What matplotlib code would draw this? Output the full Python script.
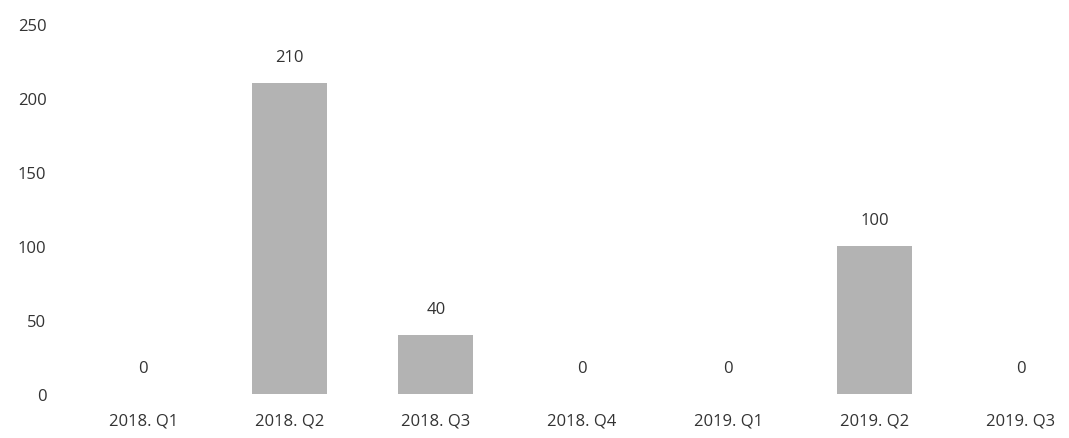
import matplotlib
matplotlib.use("Agg")
import matplotlib.pyplot as plt

categories = ["2018. Q1", "2018. Q2", "2018. Q3", "2018. Q4",
              "2019. Q1", "2019. Q2", "2019. Q3"]
values = [0, 210, 40, 0, 0, 100, 0]
yticks = [0, 50, 100, 150, 200, 250]

TEXT = "#333333"
BAR = "#b3b3b3"

plt.rcParams["font.family"] = ["Open Sans", "DejaVu Sans"]

fig = plt.figure(figsize=(10.69, 4.39), dpi=100)
ax = fig.add_axes([0.0655, 0.100, 0.958, 0.843])

x = list(range(len(categories)))
bars = ax.bar(x, values, width=0.51, color=BAR, edgecolor="none")

for xi, v in zip(x, values):
    ax.annotate(f"{v}", (xi, v), xytext=(0, 13), textcoords="offset points",
                ha="center", va="bottom", fontsize=12, color=TEXT)

ax.set_xlim(-0.5, len(categories) - 0.5)
ax.set_ylim(0, 250)
ax.set_yticks(yticks)
ax.set_xticks(x)
ax.set_xticklabels(categories)
ax.tick_params(axis="both", length=0, labelsize=12, labelcolor=TEXT)
ax.tick_params(axis="y", pad=17)
ax.tick_params(axis="x", pad=13)
for s in ax.spines.values():
    s.set_visible(False)

fig.savefig("out.png", dpi=100)
